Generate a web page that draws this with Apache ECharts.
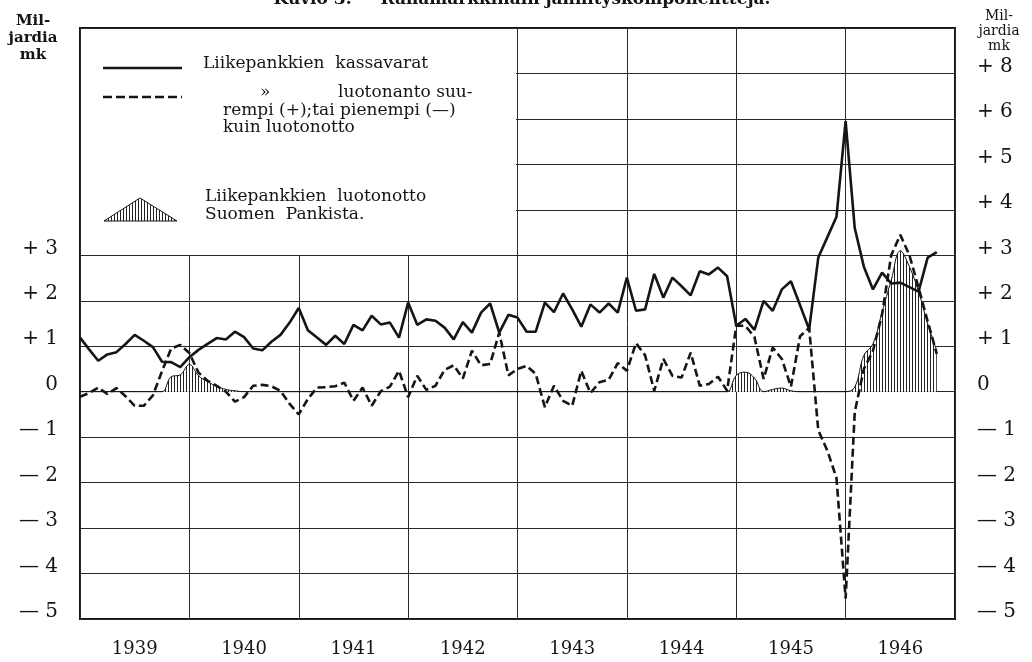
<!DOCTYPE html>
<html>
<head>
<meta charset="utf-8">
<title>Kuvio 3</title>
<script src="https://cdn.jsdelivr.net/npm/echarts@6.0.0/dist/echarts.min.js"></script>
<style>
html, body { margin: 0; padding: 0; background: #fff; }
#chart { width: 1032px; height: 662px; }
</style>
</head>
<body>
<div id="chart"></div>
<script>
// kuukausittain, tammikuu 1939 = 0
var years = ['1939', '1940', '1941', '1942', '1943', '1944', '1945', '1946'];

// Liikepankkien kassavarat
var kassavarat = [
  1.19, 0.93, 0.68, 0.82, 0.87, 1.05, 1.25, 1.12, 0.98, 0.66, 0.65, 0.54,
  0.76, 0.92, 1.05, 1.18, 1.15, 1.32, 1.20, 0.95, 0.91, 1.10, 1.25, 1.52,
  1.84, 1.35, 1.19, 1.03, 1.23, 1.05, 1.47, 1.35, 1.67, 1.48, 1.52, 1.19,
  1.96, 1.47, 1.59, 1.56, 1.41, 1.15, 1.53, 1.30, 1.74, 1.94, 1.30, 1.69,
  1.63, 1.32, 1.32, 1.96, 1.75, 2.16, 1.81, 1.43, 1.92, 1.74, 1.94, 1.74,
  2.51, 1.78, 1.81, 2.59, 2.07, 2.51, 2.32, 2.12, 2.65, 2.58, 2.73, 2.54,
  1.45, 1.60, 1.36, 2.00, 1.78, 2.25, 2.43, 1.90, 1.37, 2.95, 3.40, 3.85,
  5.95, 3.60, 2.75, 2.25, 2.62, 2.38, 2.40, 2.30, 2.20, 2.95, 3.07
];

// luotonanto suurempi (+) tai pienempi (-) kuin luotonotto
var luotonanto = [
  -0.11, -0.03, 0.09, -0.05, 0.08, -0.10, -0.31, -0.31, -0.08, 0.45, 0.95, 1.03,
  0.85, 0.42, 0.24, 0.13, 0.00, -0.22, -0.12, 0.13, 0.15, 0.12, 0.02, -0.27,
  -0.50, -0.16, 0.09, 0.10, 0.12, 0.20, -0.20, 0.09, -0.31, 0.01, 0.11, 0.46,
  -0.12, 0.35, 0.04, 0.13, 0.48, 0.58, 0.29, 0.90, 0.58, 0.61, 1.30, 0.36,
  0.50, 0.57, 0.39, -0.34, 0.13, -0.20, -0.31, 0.46, -0.03, 0.21, 0.26, 0.63,
  0.46, 1.07, 0.80, 0.02, 0.72, 0.35, 0.31, 0.86, 0.13, 0.17, 0.33, 0.02,
  1.45, 1.45, 1.20, 0.28, 0.97, 0.72, 0.11, 1.22, 1.40, -0.85, -1.30, -1.90,
  -4.55, -0.45, 0.50, 0.90, 1.70, 3.00, 3.45, 3.00, 2.29, 1.55, 0.83
];

// Liikepankkien luotonotto Suomen Pankista
var luotonotto = [
  0, 0, 0, 0, 0, 0, 0, 0, 0, 0, 0.33, 0.37,
  0.60, 0.35, 0.22, 0.12, 0.05, 0.02, 0, 0, 0, 0, 0, 0,
  0, 0, 0, 0, 0, 0, 0, 0, 0, 0, 0, 0,
  0, 0, 0, 0, 0, 0, 0, 0, 0, 0, 0, 0,
  0, 0, 0, 0, 0, 0, 0, 0, 0, 0, 0, 0,
  0, 0, 0, 0, 0, 0, 0, 0, 0, 0, 0, 0,
  0.36, 0.43, 0.30, 0, 0.05, 0.08, 0.02, 0, 0, 0, 0, 0,
  0, 0.10, 0.80, 1.05, 1.75, 2.45, 3.10, 2.75, 2.20, 1.50, 0.90
];

// akselien tekstit
var leftTicks = ['— 5', '— 4', '— 3', '— 2', '— 1', '0', '+ 1', '+ 2', '+ 3'];
var rightTicks = ['— 5', '— 4', '— 3', '— 2', '— 1', '0', '+ 1', '+ 2', '+ 3', '+ 4', '+ 5', '+ 6', '+ 8'];

var FONT = '"DejaVu Serif", "Liberation Serif", serif';
var INK = '#151515';

function pairs(arr) {
  return arr.map(function (v, i) { return [i, v]; });
}

// pystyviivoitus
function hatchPattern() {
  var c = document.createElement('canvas');
  c.width = 3; c.height = 3;
  var ctx = c.getContext('2d');
  ctx.fillStyle = '#fff';
  ctx.fillRect(0, 0, 3, 3);
  ctx.fillStyle = '#222';
  ctx.fillRect(0, 0, 1, 3);
  return { image: c, repeat: 'repeat' };
}

function legendText(txt, x, y) {
  return {
    type: 'text', z: 102,
    style: {
      text: txt, x: x, y: y, font: '17px ' + FONT, fill: INK,
      textAlign: 'left', textVerticalAlign: 'middle', align: 'left', verticalAlign: 'middle'
    }
  };
}

var myChart = echarts.init(document.getElementById('chart'));
var option = {
  backgroundColor: '#fff',
  animation: false,
  grid: {
    left: 80, right: 77, top: 28, bottom: 43,
    show: true, borderColor: INK, borderWidth: 2, backgroundColor: 'transparent'
  },
  xAxis: [
    {
      type: 'value', min: 0, max: 96, interval: 12,
      axisLine: { show: false }, axisTick: { show: false }, axisLabel: { show: false },
      splitLine: { show: true, lineStyle: { color: '#2a2a2a', width: 1 } }
    },
    {
      type: 'category', data: years, position: 'bottom', boundaryGap: true,
      axisLine: { show: false }, axisTick: { show: false }, splitLine: { show: false },
      axisLabel: { margin: 21, color: INK, fontFamily: FONT, fontSize: 18 }
    }
  ],
  yAxis: [
    {
      type: 'value', min: -5, max: 8, interval: 1, position: 'left',
      axisLine: { show: false }, axisTick: { show: false },
      splitLine: { show: true, lineStyle: { color: '#2a2a2a', width: 1 } },
      axisLabel: {
        margin: 22, color: INK, fontFamily: FONT, fontSize: 20,
        verticalAlign: 'bottom', lineHeight: 14,
        formatter: function (v) { return v <= 3 ? leftTicks[v + 5] : ''; }
      }
    },
    {
      type: 'value', min: -5, max: 8, interval: 1, position: 'right',
      axisLine: { show: false }, axisTick: { show: false }, splitLine: { show: false },
      axisLabel: {
        margin: 22, color: INK, fontFamily: FONT, fontSize: 20,
        verticalAlign: 'bottom', lineHeight: 14,
        formatter: function (v) { return rightTicks[v + 5] || ''; }
      }
    }
  ],
  series: [
    {
      name: 'Liikepankkien luotonotto Suomen Pankista',
      type: 'line', xAxisIndex: 0, yAxisIndex: 0,
      data: pairs(luotonotto), smooth: 0.4, symbol: 'none', z: 2,
      lineStyle: { color: INK, width: 1 },
      areaStyle: { color: hatchPattern(), opacity: 1 }
    },
    {
      name: 'luotonanto',
      type: 'line', xAxisIndex: 0, yAxisIndex: 0,
      data: pairs(luotonanto), symbol: 'none', z: 3,
      lineStyle: { color: INK, width: 2.6, type: [8, 4] }
    },
    {
      name: 'Liikepankkien kassavarat',
      type: 'line', xAxisIndex: 0, yAxisIndex: 0,
      data: pairs(kassavarat), symbol: 'none', z: 4,
      lineStyle: { color: INK, width: 2.6 }
    }
  ],
  graphic: [
    // otsikko, yläreuna leikkautuu
    {
      type: 'text', z: 102,
      style: {
        text: 'Kuvio 3. — Rahamarkkinain jännityskomponentteja.', x: 522, y: 0,
        font: 'bold 17px ' + FONT, fill: INK,
        textAlign: 'center', textVerticalAlign: 'middle', align: 'center', verticalAlign: 'middle'
      }
    },
    {
      type: 'text', z: 102,
      style: {
        text: 'Mil-\njardia\nmk', x: 33, y: 13, font: 'bold 15px ' + FONT, fill: INK, lineHeight: 17,
        textAlign: 'center', textVerticalAlign: 'top', align: 'center', verticalAlign: 'top'
      }
    },
    {
      type: 'text', z: 102,
      style: {
        text: 'Mil-\njardia\nmk', x: 999, y: 9, font: '14px ' + FONT, fill: INK, lineHeight: 15,
        textAlign: 'center', textVerticalAlign: 'top', align: 'center', verticalAlign: 'top'
      }
    },
    // selitelaatikko
    { type: 'rect', z: 100, shape: { x: 81, y: 29, width: 435, height: 226 }, style: { fill: '#fff' } },
    { type: 'line', z: 101, shape: { x1: 103, y1: 68, x2: 182, y2: 68 }, style: { stroke: INK, lineWidth: 2.6 } },
    { type: 'line', z: 101, shape: { x1: 103, y1: 97, x2: 182, y2: 97 }, style: { stroke: INK, lineWidth: 2.6, lineDash: [9, 4] } },
    {
      type: 'polygon', z: 101,
      shape: { points: [[104, 221], [140, 198], [177, 221]] },
      style: { fill: hatchPattern(), stroke: INK, lineWidth: 1 }
    },
    legendText('Liikepankkien  kassavarat', 203, 64),
    legendText('»', 260, 93),
    legendText('luotonanto suu-', 338, 93),
    legendText('rempi (+);tai pienempi (—)', 223, 111),
    legendText('kuin luotonotto', 223, 128),
    legendText('Liikepankkien  luotonotto', 205, 197),
    legendText('Suomen  Pankista.', 205, 215)
  ]
};
myChart.setOption(option);
</script>
</body>
</html>
